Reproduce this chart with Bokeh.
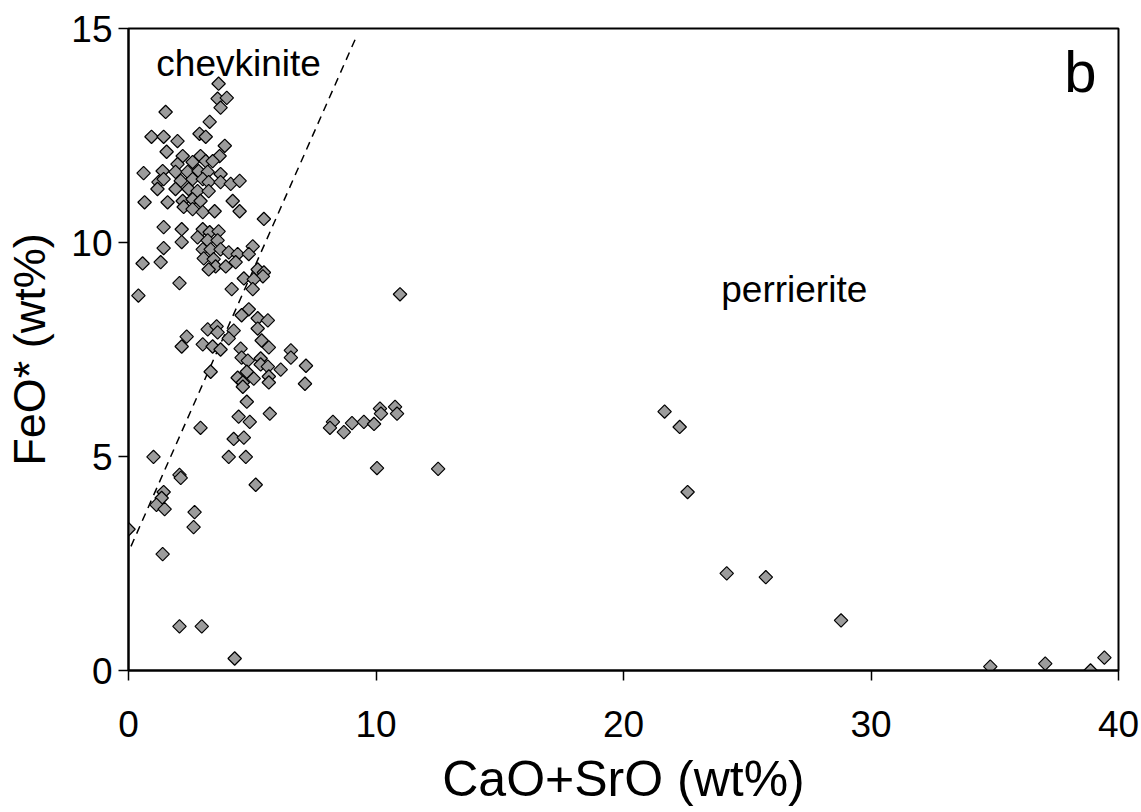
import math
from bokeh.plotting import figure
from bokeh.models import Range1d, Label, FixedTicker
from bokeh.embed import file_html
from bokeh.resources import INLINE

# CaO+SrO (wt%) and FeO* (wt%) for each analysis
cao_sro = [
    3.64, 3.60, 3.97, 3.72, 1.50, 3.28,
    0.93, 1.42, 1.98, 2.87, 3.12, 3.89, 1.54,
    2.19, 2.91, 3.68, 1.98, 2.59, 3.12, 3.40,
    0.61, 1.38, 1.90, 2.39, 2.83, 3.20, 3.72,
    1.21, 1.42, 2.11, 2.59, 3.00, 3.24, 3.72, 4.13, 4.49,
    1.17, 1.90, 2.43, 2.79, 3.24,
    0.65, 1.58, 2.19, 2.59, 2.91, 4.21,
    2.23, 2.59, 3.00, 3.48, 4.49,
    1.42, 2.15, 3.00, 3.28, 3.64, 5.47,
    2.15, 2.79, 3.20, 3.60, 1.42, 3.00, 3.32, 3.72, 4.05, 4.41, 5.02, 4.86,
    0.57, 1.30, 3.04, 3.44, 3.52, 3.24, 3.93, 4.33,
    5.22, 5.47, 5.43, 4.66, 5.06,
    2.06, 4.17, 5.02, 0.40,
    4.86, 4.57, 5.22, 5.63, 5.22,
    3.20, 3.56, 3.60, 4.25,
    2.35, 2.15, 3.00, 3.40, 3.72, 4.05,
    5.38, 5.67, 4.53,
    6.56, 6.56, 7.17,
    4.57, 4.82, 5.34, 5.34, 5.63,
    3.32, 4.78, 6.15,
    4.41, 5.06, 5.67, 4.62, 4.62, 5.67, 7.13,
    4.78, 4.45, 4.90, 5.71,
    2.91, 4.25, 4.66,
    1.01, 4.05, 4.74,
    2.06, 2.11, 5.14,
    1.42, 1.34, 1.13, 1.46,
    2.67, 2.63, 0.00, 1.38,
    2.06, 2.96, 4.29,
    10.97,
    8.26, 8.14, 8.70, 9.03, 9.51, 9.92, 10.16, 10.20, 10.77, 10.85,
    10.04, 12.51,
    21.66, 22.27, 22.59,
    24.17, 25.75, 28.79,
    34.82, 37.04, 38.87, 39.43,
]
feo = [
    13.71, 13.36, 13.38, 13.15, 13.05, 12.82,
    12.47, 12.47, 12.37, 12.54, 12.47, 12.26, 12.12,
    12.02, 12.02, 12.02, 11.83, 11.88, 11.90, 11.90,
    11.62, 11.67, 11.65, 11.65, 11.67, 11.65, 11.60,
    11.41, 11.48, 11.44, 11.48, 11.48, 11.41, 11.41, 11.37, 11.44,
    11.25, 11.25, 11.25, 11.20, 11.20,
    10.94, 10.94, 10.97, 11.01, 10.97, 10.97,
    10.83, 10.78, 10.71, 10.73, 10.73,
    10.36, 10.31, 10.31, 10.24, 10.26, 10.55,
    10.01, 10.12, 10.05, 10.05, 9.87, 9.84, 9.84, 9.84, 9.77, 9.73, 9.91, 9.73,
    9.51, 9.54, 9.63, 9.61, 9.44, 9.37, 9.44, 9.54,
    9.37, 9.30, 9.21, 9.16, 9.14,
    9.05, 8.91, 8.91, 8.76,
    8.44, 8.30, 8.23, 8.18, 7.99,
    7.97, 8.04, 7.90, 7.94,
    7.80, 7.57, 7.62, 7.57, 7.50, 7.76,
    7.71, 7.55, 7.52,
    7.48, 7.31, 7.12,
    7.31, 7.24, 7.29, 7.15, 7.10,
    6.98, 6.98, 7.03,
    6.84, 6.82, 6.87, 6.73, 6.63, 6.73, 6.70,
    6.28, 5.93, 5.81, 6.00,
    5.67, 5.41, 5.44,
    4.99, 4.99, 4.99,
    4.57, 4.50, 4.34,
    4.17, 4.03, 3.87, 3.77,
    3.70, 3.35, 3.30, 2.72,
    1.03, 1.03, 0.28,
    8.79,
    5.81, 5.67, 5.57, 5.78, 5.81, 5.76, 6.12, 6.00, 6.16, 6.00,
    4.73, 4.71,
    6.05, 5.69, 4.17,
    2.27, 2.18, 1.17,
    0.09, 0.16, 0.00, 0.30,
]

# dividing line between the chevkinite and perrierite fields
divide_x = [0.1, 9.2]
divide_y = [2.9, 14.8]

x_ticks = [0, 10, 20, 30, 40]
y_ticks = [0, 5, 10, 15]

FONT = "Liberation Sans"

p = figure(width=1141, height=812, output_backend="svg", toolbar_location=None,
           x_range=Range1d(0, 40), y_range=Range1d(0, 15),
           min_border_left=128, min_border_right=23, min_border_top=28, min_border_bottom=142)
p.grid.visible = False
p.outline_line_color = "black"
p.outline_line_width = 2
p.background_fill_color = "white"
p.border_fill_color = "white"

for ax in (p.xaxis[0], p.yaxis[0]):
    ax.axis_line_width = 2
    ax.axis_line_color = "black"
    ax.major_tick_line_width = 1.5
    ax.major_tick_line_color = "black"
    ax.major_tick_in = 0
    ax.major_tick_out = 10
    ax.minor_tick_line_color = None
    ax.major_label_text_font = FONT
    ax.major_label_text_font_size = "37px"
    ax.major_label_text_color = "black"
    ax.axis_label_text_font = FONT
    ax.axis_label_text_font_style = "normal"
    ax.axis_label_text_color = "black"

p.xaxis.ticker = FixedTicker(ticks=x_ticks)
p.yaxis.ticker = FixedTicker(ticks=y_ticks)
p.xaxis.axis_label = "CaO+SrO (wt%)"
p.yaxis.axis_label = "FeO* (wt%)"
p.xaxis.axis_label_text_font_size = "50px"
p.yaxis.axis_label_text_font_size = "45px"
p.xaxis.major_label_standoff = 30
p.yaxis.major_label_standoff = 6
p.xaxis.axis_label_standoff = 11
p.yaxis.axis_label_standoff = 13

p.line(divide_x, divide_y, line_color="black", line_width=1.5, line_dash="8 6")

# equal-sided diamonds: squares turned by 45 degrees
p.scatter(cao_sro, feo, marker="square", angle=math.pi / 4, size=9.5,
          fill_color="#9c9c9c", line_color="black", line_width=1.2)

p.add_layout(Label(x=4.45, y=14.18, text="chevkinite", text_font=FONT, text_font_size="37px",
                   text_align="center", text_baseline="middle", text_color="black"))
p.add_layout(Label(x=26.9, y=8.9, text="perrierite", text_font=FONT, text_font_size="37px",
                   text_align="center", text_baseline="middle", text_color="black"))
p.add_layout(Label(x=38.46, y=14.0, text="b", text_font=FONT, text_font_size="58px",
                   text_align="center", text_baseline="middle", text_color="black"))

open("out.html", "w").write(file_html(p, INLINE))
